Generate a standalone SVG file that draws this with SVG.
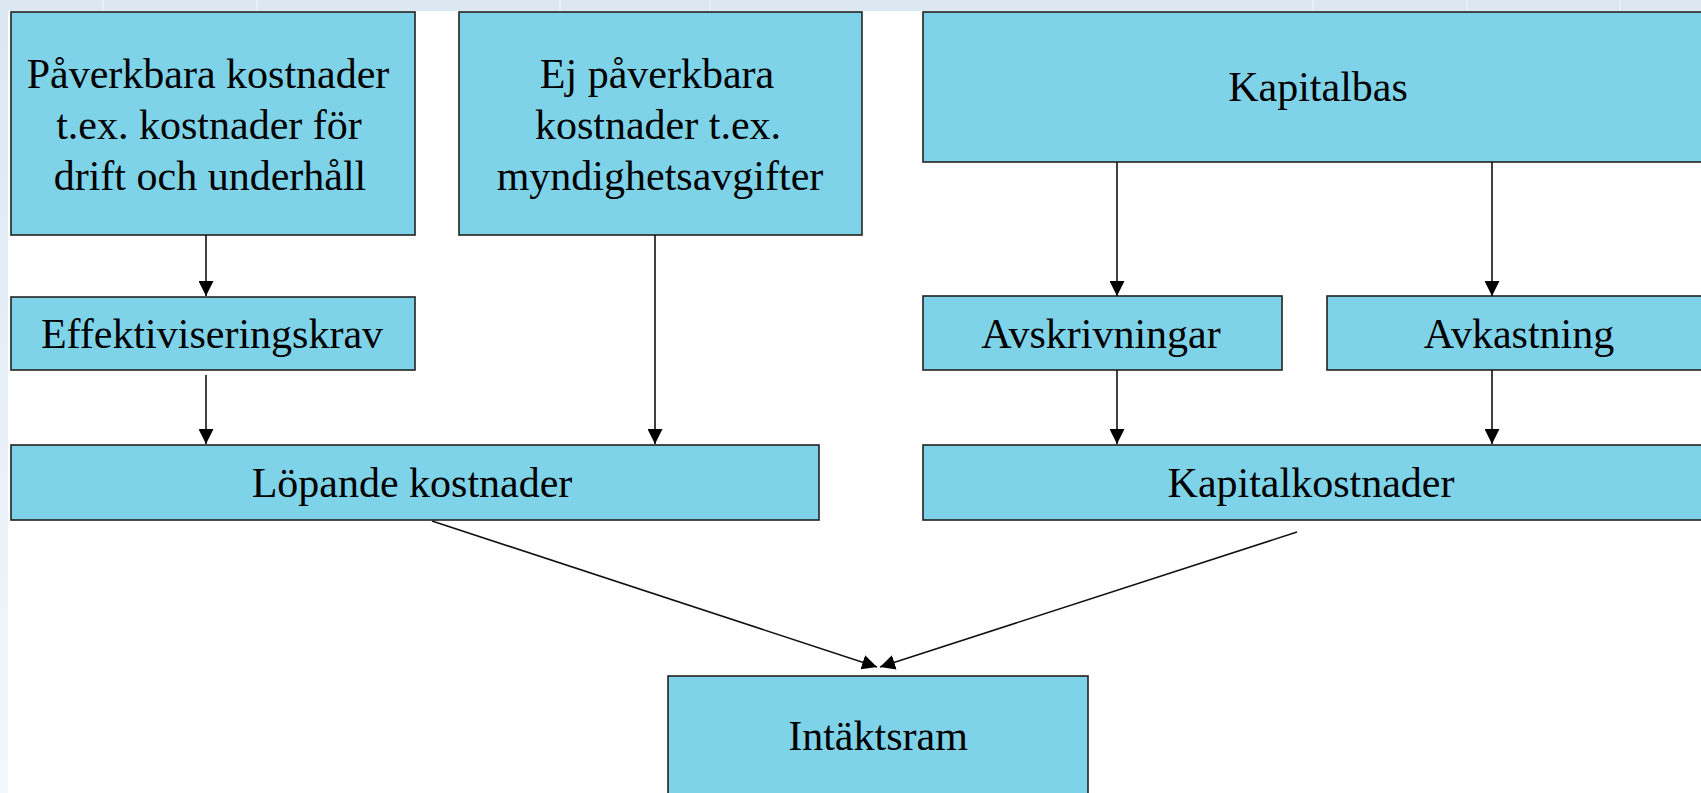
<svg xmlns="http://www.w3.org/2000/svg" width="1701" height="793" viewBox="0 0 1701 793">
<style>
.node rect{fill:#7fd3e8;stroke:#222;stroke-width:1.6}
.node text{font-family:"Liberation Serif","Times New Roman",serif;font-size:42px;fill:#000;text-anchor:middle}
.conn line{stroke:#111;stroke-width:1.6;fill:none;marker-end:url(#ah)}
.grid{stroke:#e7eff6;stroke-width:2}
</style>
<defs>
<linearGradient id="lg" x1="0" y1="0" x2="0" y2="1">
<stop offset="0" stop-color="#dbe7f1"/>
<stop offset="1" stop-color="#f3f7fb"/>
</linearGradient>
<marker id="ah" markerUnits="userSpaceOnUse" markerWidth="16" markerHeight="15" refX="15" refY="7.5" orient="auto" viewBox="0 0 16 15">
<path d="M0,0 L15,7.5 L0,15 z" fill="#000"/>
</marker>
</defs>
<rect x="0" y="0" width="1701" height="793" fill="url(#lg)"/>
<rect x="0" y="0" width="1701" height="11" fill="#dce8f1"/>
<g class="grid">
<line x1="103" y1="0" x2="103" y2="11"/>
<line x1="257" y1="0" x2="257" y2="11"/>
<line x1="560" y1="0" x2="560" y2="11"/>
<line x1="710" y1="0" x2="710" y2="11"/>
<line x1="1313" y1="0" x2="1313" y2="11"/>
<line x1="1467" y1="0" x2="1467" y2="11"/>
<line x1="1620" y1="0" x2="1620" y2="11"/>
</g>
<rect x="8" y="11" width="1693" height="782" fill="#ffffff"/>

<g id="n-paverkbara" class="node">
<rect x="11" y="12" width="404" height="223"/>
<text x="208" y="88">Påverkbara kostnader</text>
<text x="209" y="139">t.ex. kostnader för</text>
<text x="210" y="190">drift och underhåll</text>
</g>
<g id="n-ejpaverkbara" class="node">
<rect x="459" y="12" width="403" height="223"/>
<text x="657" y="88">Ej påverkbara</text>
<text x="658" y="139">kostnader t.ex.</text>
<text x="660" y="190">myndighetsavgifter</text>
</g>
<g id="n-kapitalbas" class="node">
<rect x="923" y="12" width="800" height="150"/>
<text x="1318" y="101">Kapitalbas</text>
</g>
<g id="n-effektiv" class="node">
<rect x="11" y="297" width="404" height="73"/>
<text x="212" y="348">Effektiviseringskrav</text>
</g>
<g id="n-avskrivningar" class="node">
<rect x="923" y="296" width="359" height="74"/>
<text x="1101" y="348">Avskrivningar</text>
</g>
<g id="n-avkastning" class="node">
<rect x="1327" y="296" width="400" height="74"/>
<text x="1519" y="348">Avkastning</text>
</g>
<g id="n-lopande" class="node">
<rect x="11" y="445" width="808" height="75"/>
<text x="412" y="497">Löpande kostnader</text>
</g>
<g id="n-kapitalkostnader" class="node">
<rect x="923" y="445" width="800" height="75"/>
<text x="1311" y="497">Kapitalkostnader</text>
</g>
<g id="n-intaktsram" class="node">
<rect x="668" y="676" width="420" height="140"/>
<text x="878" y="750">Intäktsram</text>
</g>

<g id="connectors" class="conn">
<line x1="206" y1="235" x2="206" y2="296"/>
<line x1="206" y1="375" x2="206" y2="444"/>
<line x1="655" y1="235" x2="655" y2="444"/>
<line x1="1117" y1="162" x2="1117" y2="296"/>
<line x1="1492" y1="162" x2="1492" y2="296"/>
<line x1="1117" y1="370" x2="1117" y2="444"/>
<line x1="1492" y1="370" x2="1492" y2="444"/>
<line x1="432" y1="521" x2="877" y2="667"/>
<line x1="1297" y1="532" x2="880" y2="667"/>
</g>
</svg>
